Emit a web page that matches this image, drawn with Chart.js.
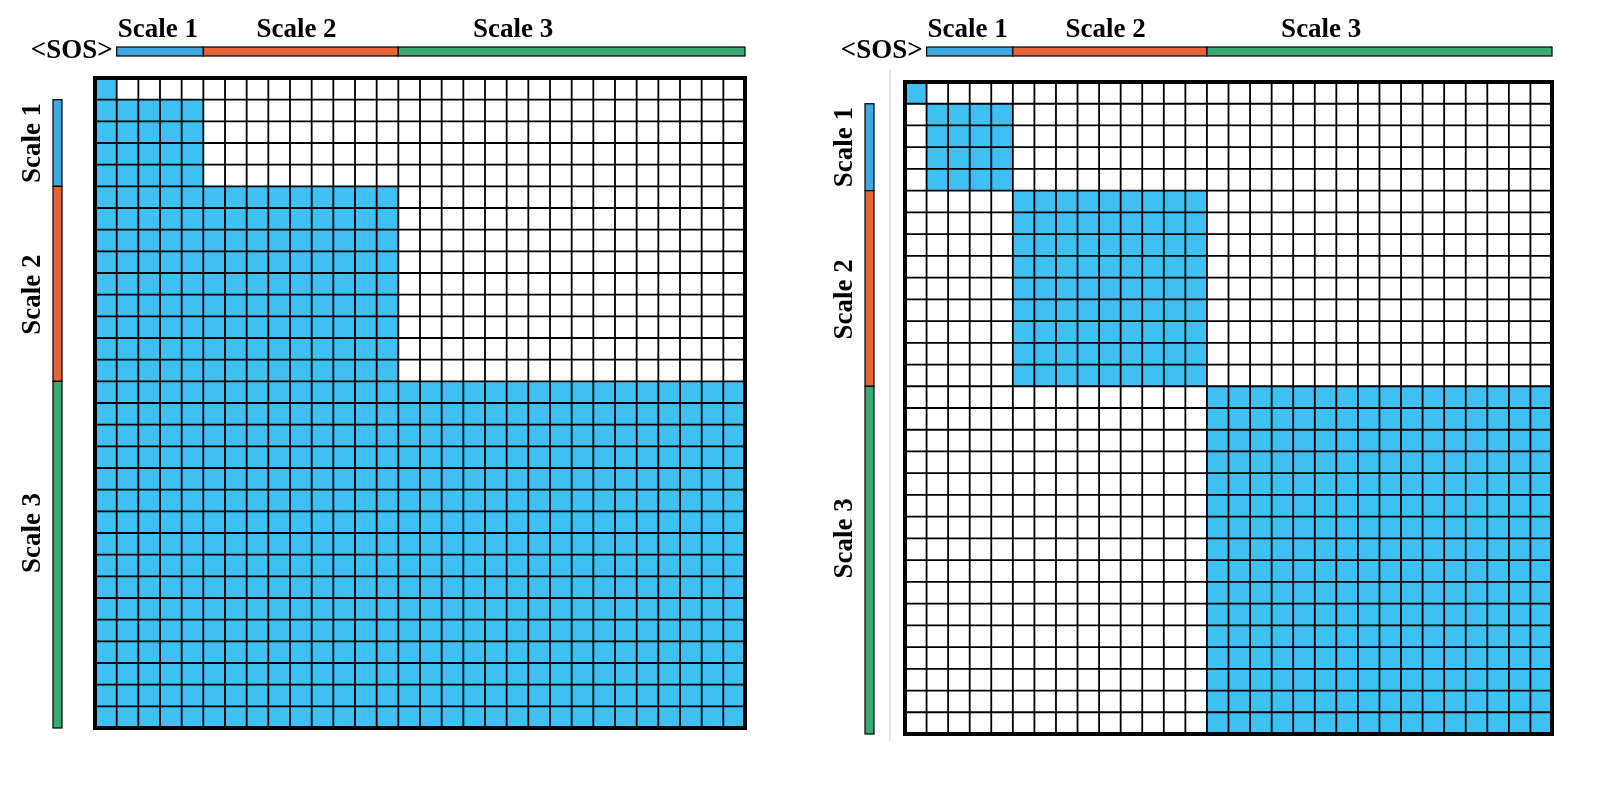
<!DOCTYPE html>
<html>
<head>
<meta charset="utf-8">
<script src="https://cdn.jsdelivr.net/npm/chart.js@4.4.1/dist/chart.umd.min.js"></script>
<style>
  body { margin: 0; background: #fff; }
  .wrap { position: absolute; top: 0; width: 806px; height: 786px; }
</style>
</head>
<body>
<div class="wrap" style="left:0"><canvas id="left"></canvas></div>
<div class="wrap" style="left:806px"><canvas id="right"></canvas></div>
<script>
// token blocks: <SOS>, scale 1, scale 2, scale 3
var blockNames = ['<SOS>', 'Scale 1', 'Scale 2', 'Scale 3'];
var blockSizes = [1, 4, 9, 16];
var blockColors = ['#3ec1f2', '#3ea9e0', '#e8623a', '#3aaa74'];
// label positions along the axis, in cell units
var topLabelPos = [null, 2.9, 9.3, 19.3];
var sideLabelPos = [null, 3.0, 10.0, 21.0];

var cellFill = '#3ec1f2';
var labelFont = 'bold 27px "Liberation Serif", "DejaVu Serif", serif';

function blockOf(i) {
  var s = 0;
  for (var b = 0; b < blockSizes.length; b++) {
    s += blockSizes[b];
    if (i < s) return b;
  }
  return blockSizes.length - 1;
}
function blockStart(b) {
  var s = 0;
  for (var k = 0; k < b; k++) s += blockSizes[k];
  return s;
}
var total = blockSizes.reduce(function (a, b) { return a + b; }, 0);

// masks: causal (left) and block-diagonal (right)
var rules = {
  left: function (r, c) { return blockOf(c) <= blockOf(r); },
  right: function (r, c) { return blockOf(c) === blockOf(r); }
};

var gridPlugin = {
  id: 'grid',
  afterDraw: function (chart) {
    var ctx = chart.ctx;
    var xs = chart.scales.x, ys = chart.scales.y;
    var rule = rules[chart.options.plugins.grid.mask];
    var X = function (v) { return xs.getPixelForValue(v); };
    var Y = function (v) { return ys.getPixelForValue(v); };
    ctx.save();
    for (var r = 0; r < total; r++) {
      for (var c = 0; c < total; c++) {
        if (rule(r, c)) {
          ctx.fillStyle = cellFill;
          ctx.fillRect(X(c), Y(r), X(c + 1) - X(c), Y(r + 1) - Y(r));
        }
      }
    }
    ctx.strokeStyle = '#000';
    ctx.lineWidth = 1.8;
    ctx.beginPath();
    for (var i = 1; i < total; i++) {
      ctx.moveTo(X(i), Y(0)); ctx.lineTo(X(i), Y(total));
      ctx.moveTo(X(0), Y(i)); ctx.lineTo(X(total), Y(i));
    }
    ctx.stroke();
    ctx.lineWidth = 4;
    ctx.strokeRect(X(0), Y(0), X(total) - X(0), Y(total) - Y(0));

    // scale bars
    var opt = chart.options.plugins.grid;
    ctx.lineWidth = 1.2;
    ctx.textAlign = 'center';
    ctx.textBaseline = 'middle';
    for (var b = 1; b < blockSizes.length; b++) {
      var a0 = blockStart(b), a1 = a0 + blockSizes[b];
      ctx.fillStyle = blockColors[b];
      ctx.fillRect(X(a0), opt.topBarY, X(a1) - X(a0), 9);
      ctx.strokeRect(X(a0), opt.topBarY, X(a1) - X(a0), 9);
      ctx.fillRect(opt.sideBarX, Y(a0), 9, Y(a1) - Y(a0));
      ctx.strokeRect(opt.sideBarX, Y(a0), 9, Y(a1) - Y(a0));
      ctx.fillStyle = '#000';
      ctx.font = labelFont;
      ctx.fillText(blockNames[b], X(topLabelPos[b]), opt.topBarY - 17);
      ctx.save();
      ctx.translate(opt.sideBarX - 20, Y(sideLabelPos[b]));
      ctx.rotate(-Math.PI / 2);
      ctx.font = labelFont;
      ctx.fillText(blockNames[b], 0, 0);
      ctx.restore();
    }
    ctx.font = labelFont;
    ctx.fillStyle = '#000';
    ctx.textAlign = 'right';
    ctx.fillText(blockNames[0], X(1) - 4, opt.topBarY + 4);
    if (opt.divider) {
      ctx.strokeStyle = '#ccc';
      ctx.lineWidth = 1;
      ctx.beginPath();
      ctx.moveTo(opt.divider, 70); ctx.lineTo(opt.divider, 742);
      ctx.stroke();
    }
    ctx.restore();
  }
};

function makeChart(id, mask, pad, topBarY, sideBarX, divider) {
  return new Chart(document.getElementById(id), {
    type: 'scatter',
    data: { datasets: [{ data: [] }] },
    plugins: [gridPlugin],
    options: {
      responsive: true,
      maintainAspectRatio: false,
      animation: false,
      layout: { padding: pad },
      scales: {
        x: { type: 'linear', min: 0, max: total, display: false },
        y: { type: 'linear', min: 0, max: total, reverse: true, display: false }
      },
      plugins: {
        legend: { display: false },
        tooltip: { enabled: false },
        grid: { mask: mask, topBarY: topBarY, sideBarX: sideBarX, divider: divider }
      }
    }
  });
}

makeChart('left', 'left', { left: 95, right: 61, top: 78, bottom: 58 }, 47, 53, 0);
makeChart('right', 'right', { left: 99, right: 60, top: 82, bottom: 52 }, 47, 59, 84);
</script>
</body>
</html>
